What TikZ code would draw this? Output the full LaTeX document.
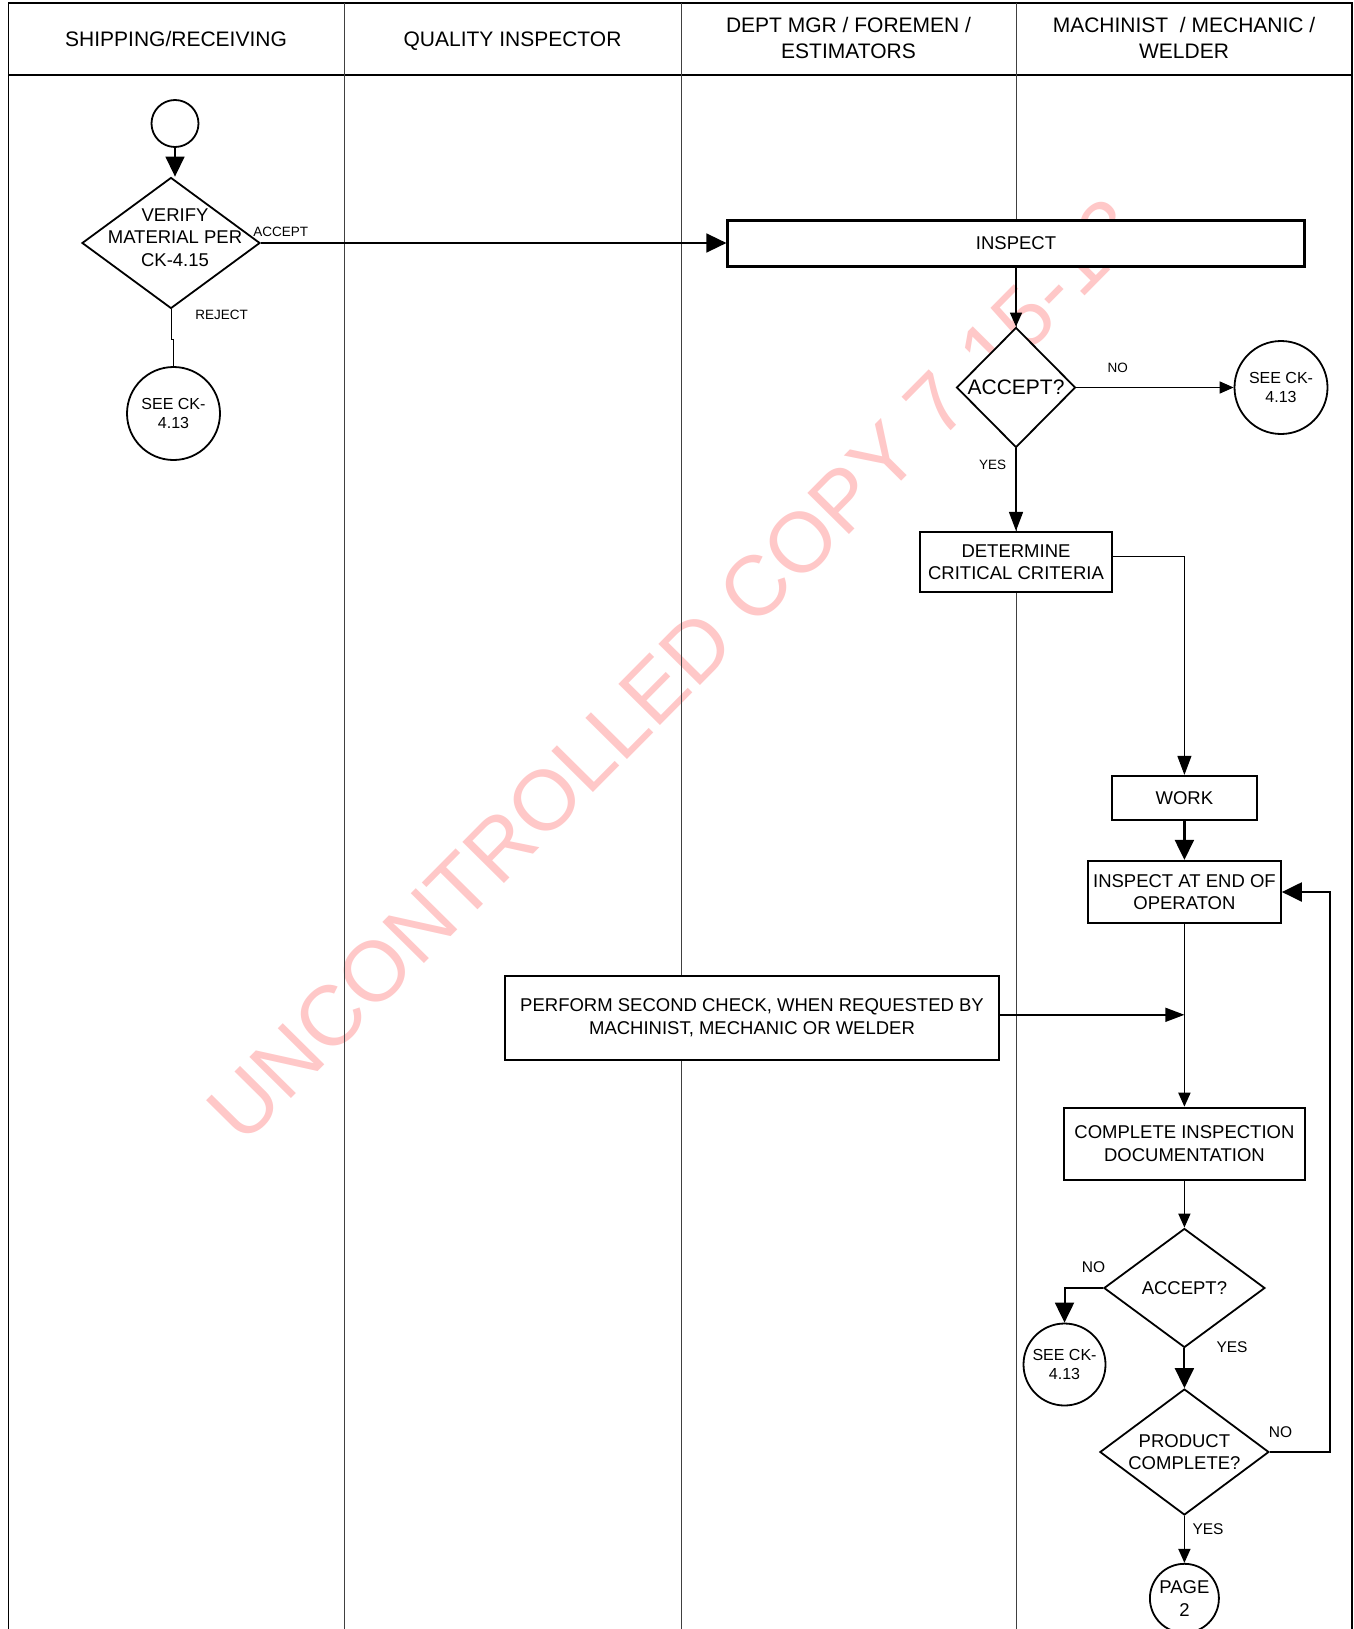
\documentclass[tikz,border=0pt]{standalone}
\usepackage{fontspec}
\setmainfont{Liberation Sans}
\usetikzlibrary{arrows.meta, shapes.geometric}

\newcommand\headtxt{\fontsize{21}{26}\selectfont}
\newcommand\bodytxt{\fontsize{18.5}{22.5}\selectfont}
\newcommand\circtxt{\fontsize{16}{19}\selectfont}
\newcommand\tagtxt{\fontsize{13.5}{16}\selectfont}
\newcommand\tagbtxt{\fontsize{15.5}{18}\selectfont}
\definecolor{stampred}{RGB}{255,200,200}

\begin{document}
\begin{tikzpicture}[x=1pt, y=-1pt,
  lane/.style={line width=1pt, black!75},
  laneframe/.style={line width=1.4pt},
  hdr/.style={inner sep=0pt, align=center, font=\headtxt},
  proc/.style={draw, fill=white, line width=2.2pt, inner sep=0pt, align=center, font=\bodytxt},
  decision/.style={diamond, draw, fill=white, line width=1.8pt, inner sep=0pt},
  dtext/.style={inner sep=0pt, align=center, font=\bodytxt},
  conn/.style={circle, draw, fill=white, line width=1.8pt, inner sep=0pt, align=center, font=\circtxt},
  tag/.style={inner sep=0pt, font=\tagtxt},
  tagb/.style={inner sep=0pt, font=\tagbtxt},
  flow/.style={line width=1.5pt},
  bigtip/.style={-{Triangle[length=20pt,width=19pt]}},
  midtip/.style={-{Triangle[length=19pt,width=14pt]}},
  smalltip/.style={-{Triangle[length=14pt,width=12pt]}}]

  \useasboundingbox (0,0) rectangle (1353,1629);

  % watermark, behind everything
  \node[rotate=45.3, inner sep=0pt, text=stampred, font=\fontsize{85}{85}\selectfont]
    (stamp) at (674.5,669.5) {UNCONTROLLED COPY 7-15-13};

  % swim lanes
  \draw[laneframe] (8.3,1629) -- (8.3,3) -- (1352,3) -- (1352,1629);
  \draw[laneframe] (8.3,75) -- (1352,75);
  \foreach \x in {344,681,1016}
    \draw[lane] (\x,3) -- (\x,1629);

  \node[hdr] (hship) at (176,39) {SHIPPING/RECEIVING};
  \node[hdr, text depth=0pt] (hqual) at (512.5,39) {QUALITY INSPECTOR};
  \node[hdr] (hdept) at (848.5,38) {DEPT MGR / FOREMEN /\\ESTIMATORS};
  \node[hdr] (hmach) at (1184,38) {MACHINIST \ / MECHANIC /\\WELDER};

  % shipping / receiving
  \node[conn, minimum size=47pt] (start) at (175,123.5) {};
  \node[decision, minimum width=178pt, minimum height=131pt] (verify) at (171,243) {};
  \node[dtext] (verifytxt) at (175,237.5) {VERIFY\\MATERIAL PER\\CK-4.15};
  \node[conn, minimum size=93pt] (see1) at (173.5,413.5) {SEE CK-\\4.13};
  \node[tag] (acclbl) at (280.7,231.7) {ACCEPT};
  \node[tag] (rejlbl) at (221.7,315) {REJECT};

  % dept mgr / machinist
  \node[proc, minimum width=577pt, minimum height=46pt] (inspect) at (1016,243.5) {INSPECT};
  \node[decision, minimum width=119pt, minimum height=120pt] (acc1) at (1016,387.5) {};
  \node[dtext, font=\headtxt] (acc1txt) at (acc1) {ACCEPT?};
  \node[conn, minimum size=93pt] (see2) at (1281,387.5) {SEE CK-\\4.13};
  \node[tag] (no1) at (1117.7,368) {NO};
  \node[tag] (yes1) at (992.5,465.3) {YES};
  \node[proc, minimum width=192.5pt, minimum height=60pt] (determine) at (1016,562) {DETERMINE\\CRITICAL CRITERIA};

  \node[proc, minimum width=144.7pt, minimum height=44pt] (work) at (1184.4,798) {WORK};
  \node[proc, minimum width=192.7pt, minimum height=62pt] (insend) at (1184.4,892) {INSPECT AT END OF\\OPERATON};
  \node[proc, minimum width=494pt, minimum height=84pt] (perform) at (752,1017.8)
    {PERFORM SECOND CHECK, WHEN REQUESTED BY\\MACHINIST, MECHANIC OR WELDER};
  \coordinate (merge) at (1184.4,1014.8);
  \node[proc, minimum width=241pt, minimum height=72pt] (complete) at (1184.4,1143.8) {COMPLETE INSPECTION\\DOCUMENTATION};

  \node[decision, minimum width=161pt, minimum height=119pt] (acc2) at (1184.4,1288) {};
  \node[dtext] (acc2txt) at (acc2) {ACCEPT?};
  \node[conn, minimum size=82pt] (see3) at (1064.5,1364.5) {SEE CK-\\4.13};
  \node[tagb] (no2) at (1093.5,1267.5) {NO};
  \node[tagb] (yes2) at (1232,1347.5) {YES};
  \node[decision, minimum width=169pt, minimum height=126pt] (product) at (1184.4,1452) {};
  \node[dtext] (producttxt) at (product) {PRODUCT\\COMPLETE?};
  \node[tagb] (no3) at (1280.5,1432) {NO};
  \node[tagb] (yes3) at (1208,1529.5) {YES};
  \node[conn, minimum size=69pt, font=\bodytxt] (page2) at (1184.4,1598.3) {PAGE\\2};

  % connectors
  \draw[flow, bigtip] (start) -- (start |- verify.north);
  \draw[flow, bigtip] (verify.east) -- (verify.east -| inspect.west);
  \draw[line width=1pt] (verify.south) -- ++(0,30) -| (see1.north);
  \draw[flow, smalltip] (inspect) -- (acc1.north);
  \draw[flow, smalltip] (acc1.east) -- (see2.west);
  \draw[flow, midtip] (acc1.south) -- (determine.north);
  \draw[line width=1pt, midtip] ([yshift=6pt]determine.east) -| (work.north);
  \draw[line width=2.2pt, bigtip] (work) -- (insend);
  \draw[line width=1.8pt] (insend.south) -- (merge);
  \draw[flow, midtip] (perform.east |- merge) -- (merge);
  \draw[line width=1.8pt, smalltip] (merge) -- (complete.north);
  \draw[flow, smalltip] (complete) -- (acc2.north);
  \draw[line width=2pt, bigtip] (acc2.west) -| (see3.north);
  \draw[line width=2pt, bigtip] (acc2.south) -- (product.north);
  \draw[line width=2.2pt, bigtip] (product.east) -- ++(60,0) |- (insend.east);
  \draw[flow, smalltip] (product.south) -- (page2.north);
\end{tikzpicture}
\end{document}
